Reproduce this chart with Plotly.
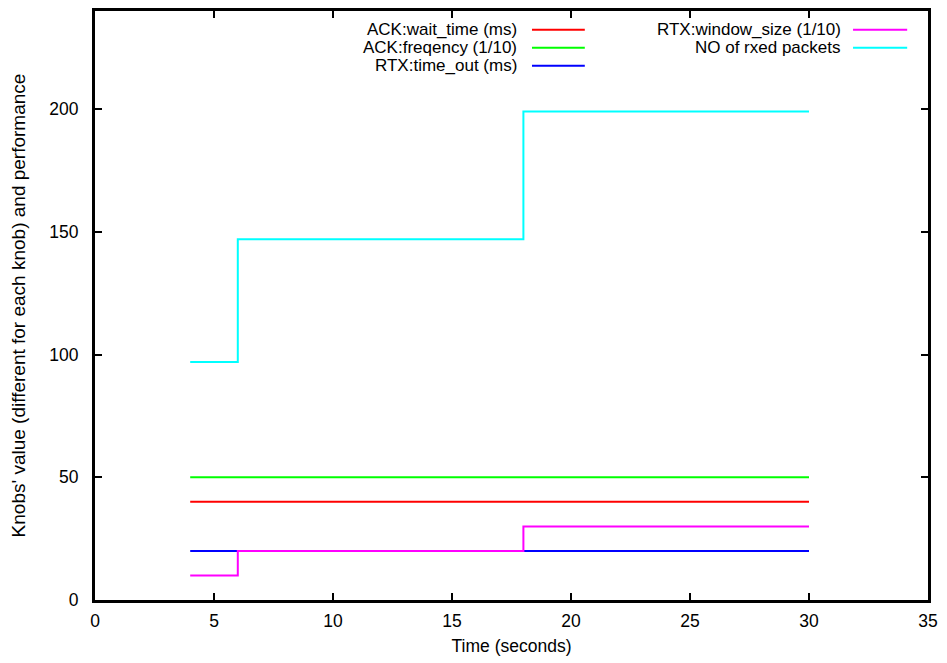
import plotly.graph_objects as go

# Data
time_s = [4, 6, 18, 30]
ack_wait_time = [40, 40, 40, 40]
ack_frequency = [50, 50, 50, 50]
rtx_time_out = [20, 20, 20, 20]
rtx_window_size = [10, 20, 30, 30]
rxed_packets = [97, 147, 199, 199]

series_names = ["ACK:wait_time (ms)", "ACK:freqency (1/10)", "RTX:time_out (ms)",
                "RTX:window_size (1/10)", "NO of rxed packets"]
series_values = [ack_wait_time, ack_frequency, rtx_time_out, rtx_window_size, rxed_packets]
series_colors = ["#ff0000", "#00ff00", "#0000ff", "#ff00ff", "#00ffff"]

x_ticks = [0, 5, 10, 15, 20, 25, 30, 35]
y_ticks = [0, 50, 100, 150, 200]

FONT = "Liberation Sans, Arial"
FS = 17.5

fig = go.Figure()
for name, vals, col in zip(series_names, series_values, series_colors):
    fig.add_trace(go.Scatter(x=time_s, y=vals, mode="lines", name=name,
                             line=dict(color=col, width=2, shape="hv"),
                             showlegend=False))

# Manual gnuplot-style legend (text right-aligned, sample to the right)
legend_pos = [
    (0.508, 0.5246, 0.588, 0.968),
    (0.508, 0.5246, 0.588, 0.9375),
    (0.508, 0.5246, 0.588, 0.907),
    (0.8968, 0.910, 0.975, 0.968),
    (0.8968, 0.910, 0.975, 0.9375),
]
for name, col, (tx, x0, x1, yy) in zip(series_names, series_colors, legend_pos):
    fig.add_annotation(x=tx, y=yy, xref="paper", yref="paper", text=name,
                       showarrow=False, xanchor="right", yanchor="middle",
                       borderpad=0,
                       font=dict(family=FONT, size=17, color="black"))
    fig.add_shape(type="line", xref="paper", yref="paper", x0=x0, x1=x1, y0=yy, y1=yy,
                  line=dict(color=col, width=2))

axis_common = dict(showgrid=False, zeroline=False, showline=True, linecolor="black",
                   linewidth=3, mirror="allticks", ticks="inside", ticklen=7,
                   tickwidth=2, tickcolor="black",
                   tickfont=dict(family=FONT, size=FS, color="black"))

fig.update_layout(
    width=939, height=655,
    margin=dict(l=87, r=19, t=0, b=63),
    paper_bgcolor="white", plot_bgcolor="white",
    font=dict(family=FONT, size=FS, color="black"),
    xaxis=dict(range=[0, 35], tickvals=x_ticks, ticklabelstandoff=3,
               title=dict(text="Time (seconds)", standoff=10,
                          font=dict(family=FONT, size=FS)),
               **axis_common),
    yaxis=dict(range=[0, 240], tickvals=y_ticks, ticklabelstandoff=10,
               title=dict(text="Knobs' value (different for each knob) and performance", standoff=20,
                          font=dict(family=FONT, size=19)),
               **axis_common),
)

fig.write_html("out.html")
